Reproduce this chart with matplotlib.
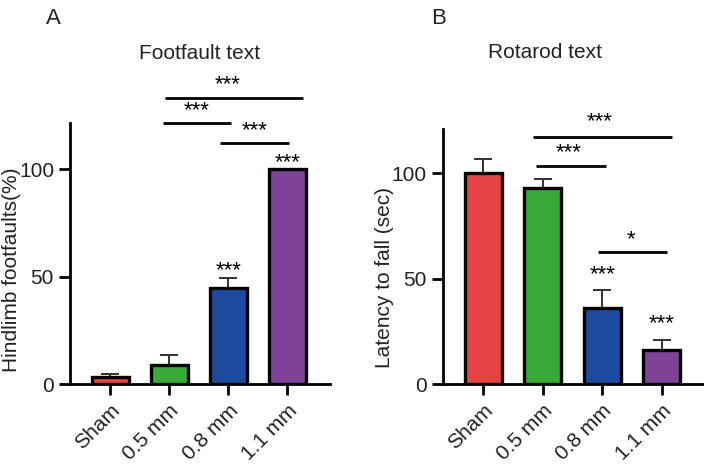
import matplotlib
matplotlib.use('Agg')
import matplotlib.pyplot as plt
import numpy as np

plt.rcParams['font.family'] = ['Liberation Sans', 'DejaVu Sans']

# data
groups = ['Sham', '0.5 mm', '0.8 mm', '1.1 mm']
colors = ['#E64444', '#38AA38', '#1D4B9D', '#7C4396']

footfault = [3.3, 8.8, 44.8, 100.0]
footfault_err = [1.4, 4.7, 4.7, 0.0]

rotarod = [100.0, 93.2, 35.9, 16.1]
rotarod_err = [6.6, 4.1, 8.7, 4.8]

# significance: (x1, x2, y_line, text_x, text_y, label)
ff_brackets = [(0.92, 3.26, 133, 1.98, 139, '***'),
               (0.89, 2.05, 121.5, 1.46, 127, '***'),
               (1.85, 3.02, 112.3, 2.44, 118, '***')]
ff_stars = [(2, 52.5, '***'), (3, 103, '***')]

rr_brackets = [(0.83, 3.17, 117.4, 1.96, 124.5, '***'),
               (0.88, 2.06, 103.5, 1.44, 109.6, '***'),
               (1.92, 3.09, 62.8, 2.49, 68.3, '*')]
rr_stars = [(2, 52, '***'), (3, 28.8, '***')]

txt = '#222222'

fig = plt.figure(figsize=(7.04, 4.73), dpi=100)
axA = fig.add_axes([70/704, 1-384/473, 260/704, 261/473])
axB = fig.add_axes([442.7/704, 1-384/473, 262/704, 255/473])


def draw_panel(ax, vals, errs, ymax, ylabel, brackets, stars, label_xy):
    x = np.arange(len(vals))
    ax.bar(x, vals, width=0.62, color=colors, edgecolor='black', linewidth=2.4, zorder=3)
    for xi, v, e in zip(x, vals, errs):
        if e > 0:
            ax.errorbar(xi, v, yerr=[[0], [e]], fmt='none', ecolor='#333333',
                        elinewidth=1.4, capsize=6.5, capthick=1.4, zorder=2)
    ax.set_xlim(-0.68, 3.72)
    ax.set_ylim(0, ymax)
    ax.set_yticks([0, 50, 100])
    ax.set_xticks(x)
    ax.set_xticklabels(groups, rotation=45, ha='right', rotation_mode='anchor')
    for s in ['top', 'right']:
        ax.spines[s].set_visible(False)
    for s in ['left', 'bottom']:
        ax.spines[s].set_linewidth(2.0)
    ax.tick_params(axis='both', width=2.0, length=8, labelsize=15, colors='black', labelcolor=txt)
    ax.tick_params(axis='x', pad=4)
    ax.set_ylabel(ylabel, fontsize=15, color=txt)
    ax.yaxis.set_label_coords(*label_xy)
    for x1, x2, yl, tx, ty, lab in brackets:
        ax.plot([x1, x2], [yl, yl], color='black', lw=2.0, clip_on=False, solid_capstyle='butt')
        ax.text(tx, ty, lab, ha='center', va='center', fontsize=16, clip_on=False)
    for tx, ty, lab in stars:
        ax.text(tx, ty, lab, ha='center', va='center', fontsize=16)


draw_panel(axA, footfault, footfault_err, 121.4, 'Hindlimb footfaults(%)', ff_brackets, ff_stars, (-0.19, 0.437))
draw_panel(axB, rotarod, rotarod_err, 121.0, 'Latency to fall (sec)', rr_brackets, rr_stars, (-0.185, 0.416))

fig.text(200/704, 1-53/473, 'Footfault text', ha='center', va='center', fontsize=15, color=txt)
fig.text(545/704, 1-52/473, 'Rotarod text', ha='center', va='center', fontsize=15, color=txt)
fig.text(46/704, 1-19/473, 'A', ha='left', va='center', fontsize=16, color=txt)
fig.text(431/704, 1-19/473, 'B', ha='left', va='center', fontsize=16, color=txt)

fig.savefig('out.png', dpi=100)
